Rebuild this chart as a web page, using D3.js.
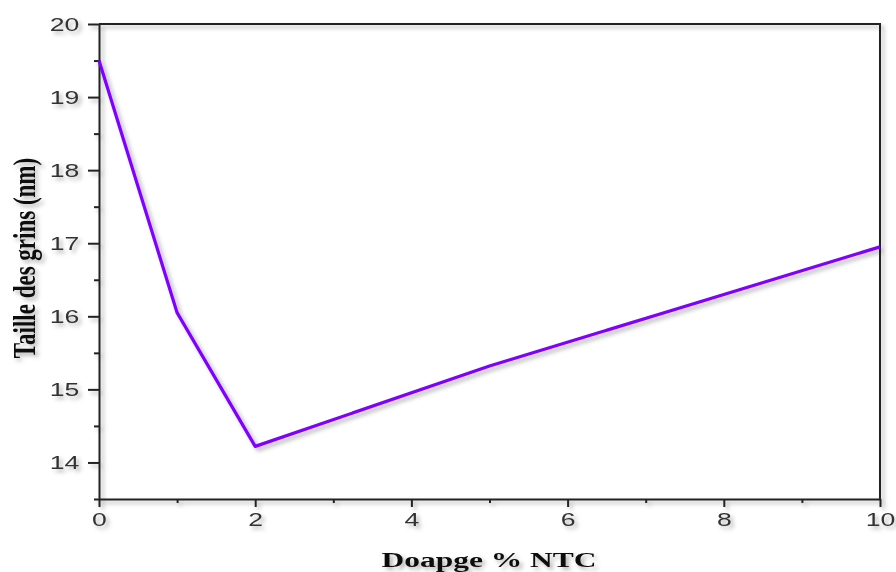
<!DOCTYPE html>
<html lang="fr">
	<head>
		<meta charset="utf-8">
		<title>Taille des grins</title>
		<script type="text/javascript" src="https://cdn.jsdelivr.net/npm/d3@7"></script>
		<style type="text/css">
			body { margin: 0; background: #fff; }
		</style>
	</head>
	<body>
		<script type="text/javascript">

			// data
			var doping = [0, 1, 2, 5, 10]
			var grainSize = [19.5, 16.05, 14.22, 15.32, 16.95]
			var xTicks = [0, 2, 4, 6, 8, 10]
			var xMinor = [1, 3, 5, 7, 9]
			var yTicks = [14, 15, 16, 17, 18, 19, 20]
			var yMinor = [13.5, 14.5, 15.5, 16.5, 17.5, 18.5, 19.5]

			var w = 896, h = 572
			var padL = 99, padR = 880, padT = 24, padB = 499
			var stretch = 1.4 // the original picture is squeezed wider than tall

			var svg = d3.select("body").append("svg").attr("width", w).attr("height", h)

			var defs = svg.append("defs")
			defs.append("filter")
				.attr("id", "shadow")
				.attr("x", "-10%").attr("y", "-10%")
				.attr("width", "130%").attr("height", "130%")
				.append("feDropShadow")
				.attr("dx", 3).attr("dy", 3)
				.attr("stdDeviation", 2)
				.attr("flood-color", "#000")
				.attr("flood-opacity", 0.3)

			var x = d3.scaleLinear().domain([0, 10]).range([padL, padR])
			var y = d3.scaleLinear().domain([13.5, 20]).range([padB, padT])

			var g = svg.append("g").attr("filter", "url(#shadow)")

			// frame top / right
			g.append("path")
				.attr("d", "M" + padL + "," + padT + "H" + padR + "V" + padB)
				.attr("fill", "none")
				.attr("stroke", "#222")
				.attr("stroke-width", 2)

			// minor ticks
			g.append("g")
				.attr("transform", "translate(0," + padB + ")")
				.call(d3.axisBottom(x).tickValues(xMinor).tickSize(4).tickFormat(""))
				.call(function(a) { a.select(".domain").remove() })
			g.append("g")
				.attr("transform", "translate(" + padL + ",0)")
				.call(d3.axisLeft(y).tickValues(yMinor).tickSize(5).tickFormat(""))
				.call(function(a) { a.select(".domain").remove() })

			// major axes
			g.append("g")
				.attr("transform", "translate(0," + padB + ")")
				.call(d3.axisBottom(x).tickValues(xTicks).tickSize(8).tickSizeOuter(0).tickPadding(6))
			g.append("g")
				.attr("transform", "translate(" + padL + ",0)")
				.call(d3.axisLeft(y).tickValues(yTicks).tickFormat(d3.format("d")).tickSize(11).tickSizeOuter(0).tickPadding(3))

			g.selectAll(".tick line").attr("stroke", "#222").attr("stroke-width", 2)
			g.selectAll(".domain").attr("stroke", "#222").attr("stroke-width", 2)
			g.selectAll(".tick text")
				.attr("font-family", "Liberation Sans, Arial, sans-serif")
				.attr("font-size", "19px")
				.attr("fill", "#333")
				.attr("transform", "scale(" + stretch + ",1)")

			// series
			var line = d3.line()
				.x(function(d, i) { return x(doping[i]) })
				.y(function(d) { return y(d) })

			g.append("path")
				.datum(grainSize)
				.attr("d", line)
				.attr("fill", "none")
				.attr("stroke", "#8000ff")
				.attr("stroke-width", 3.2)
				.attr("stroke-linejoin", "round")

			// axis titles
			g.append("text")
				.attr("transform", "translate(489,567) scale(1.5,1)")
				.attr("text-anchor", "middle")
				.attr("font-family", "Liberation Serif, Times New Roman, serif")
				.attr("font-weight", "bold")
				.attr("font-size", "21px")
				.attr("fill", "#111")
				.text("Doapge % NTC")

			g.append("text")
				.attr("transform", "translate(35,258) scale(" + stretch + ",1) rotate(-90)")
				.attr("text-anchor", "middle")
				.attr("font-family", "Liberation Serif, Times New Roman, serif")
				.attr("font-weight", "bold")
				.attr("font-size", "23px")
				.attr("fill", "#111")
				.text("Taille des grins (nm)")

		</script>
	</body>
</html>
